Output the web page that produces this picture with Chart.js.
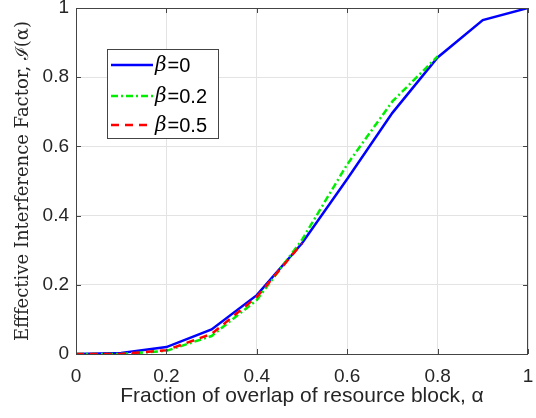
<!DOCTYPE html>
<html>
<head>
<meta charset="utf-8">
<script src="https://cdn.jsdelivr.net/npm/chart.js@4/dist/chart.umd.min.js"></script>
<style>
  html, body { margin: 0; padding: 0; background: #fff; }
  #wrap { width: 536px; height: 418px; }
</style>
</head>
<body>
<div id="wrap"><canvas id="chart"></canvas></div>
<script>
// values
const alphaVals = [0, 0.1, 0.2, 0.3, 0.4, 0.5, 0.6, 0.7, 0.8, 0.9, 1];
const beta0 = [0, 0.003, 0.02, 0.071, 0.17, 0.32, 0.506, 0.697, 0.857, 0.965, 1];
const beta02 = [0, 0, 0.009, 0.052, 0.156, 0.33, 0.548, 0.73, 0.86];
const beta05 = [0, 0, 0.011, 0.058, 0.165, 0.32];
const tickVals = [0, 0.2, 0.4, 0.6, 0.8, 1];
const legendNames = ['=0', '=0.2', '=0.5'];

const toPts = ys => ys.map((y, i) => ({ x: alphaVals[i], y }));
const axisColor = '#444';
const sans = '"Liberation Sans", Arial, sans-serif';
const serif = '"DejaVu Serif", "Liberation Serif", serif';

// box, inward ticks and legend, MATLAB style
const boxPlugin = {
    id: 'boxPlugin',
    afterDraw(chart) {
        const { ctx, chartArea: a, scales: { x, y } } = chart;
        ctx.save();
        ctx.strokeStyle = axisColor;
        ctx.lineWidth = 1;
        ctx.strokeRect(a.left + 0.5, a.top + 0.5, a.right - a.left - 1, a.bottom - a.top);
        ctx.beginPath();
        tickVals.forEach(v => {
            const px = Math.round(x.getPixelForValue(v)) + 0.5;
            ctx.moveTo(px, a.bottom); ctx.lineTo(px, a.bottom - 5);
            ctx.moveTo(px, a.top); ctx.lineTo(px, a.top + 5);
            const py = Math.round(y.getPixelForValue(v)) + 0.5;
            ctx.moveTo(a.left, py); ctx.lineTo(a.left + 5, py);
            ctx.moveTo(a.right, py); ctx.lineTo(a.right - 5, py);
        });
        ctx.stroke();

        // legend
        const lx = 107, ly = 49, lw = 111, lh = 89;
        ctx.fillStyle = '#fff';
        ctx.fillRect(lx, ly, lw, lh);
        ctx.strokeStyle = axisColor;
        ctx.strokeRect(lx + 0.5, ly + 0.5, lw, lh);
        const rows = [65, 96, 125];
        const ds = chart.data.datasets;
        ds.forEach((d, i) => {
            ctx.strokeStyle = d.borderColor;
            ctx.lineWidth = d.borderWidth;
            ctx.setLineDash(d.borderDash || []);
            ctx.beginPath();
            ctx.moveTo(111, rows[i]); ctx.lineTo(153, rows[i]);
            ctx.stroke();
            ctx.setLineDash([]);
            ctx.fillStyle = '#000';
            ctx.textBaseline = 'middle';
            ctx.font = 'italic 20px ' + serif;
            ctx.fillText('β', 155, rows[i] + 1);
            const bw = ctx.measureText('β').width;
            ctx.font = '20px ' + sans;
            ctx.fillText(legendNames[i], 156 + bw, rows[i] + 1);
        });
        ctx.restore();
    }
};

new Chart(document.getElementById('chart'), {
    type: 'line',
    data: {
        datasets: [
            { label: 'β=0', data: toPts(beta0), borderColor: '#0000ff', borderWidth: 2.5, order: 2 },
            { label: 'β=0.2', data: toPts(beta02), borderColor: '#00ee00', borderWidth: 2.5, borderDash: [7, 3, 2, 3], order: 1 },
            { label: 'β=0.5', data: toPts(beta05), borderColor: '#ff0000', borderWidth: 2.5, borderDash: [8, 6], order: 0 }
        ]
    },
    options: {
        responsive: true,
        maintainAspectRatio: false,
        animation: false,
        events: [],
        elements: { point: { radius: 0 }, line: { tension: 0, fill: false } },
        layout: { padding: { top: 8, right: 8, left: 0, bottom: 0 } },
        plugins: { legend: { display: false }, tooltip: { enabled: false } },
        scales: {
            x: {
                type: 'linear', min: 0, max: 1,
                afterFit: s => { s.height = 64; s.paddingLeft = 0; s.paddingRight = 0; },
                afterBuildTicks: s => { s.ticks = tickVals.map(v => ({ value: v })); },
                grid: { color: '#e3e3e3', drawTicks: false },
                border: { display: false },
                ticks: { color: '#262626', font: { family: sans, size: 19 }, padding: 11, maxRotation: 0,
                    callback: v => String(v) },
                title: { display: true, text: 'Fraction of overlap of resource block, α', color: '#262626',
                    font: { family: sans, size: 21 }, padding: { top: 0, bottom: 9 } }
            },
            y: {
                type: 'linear', min: 0, max: 1,
                afterFit: s => { s.width = 76; s.paddingTop = 0; s.paddingBottom = 0; },
                afterBuildTicks: s => { s.ticks = tickVals.map(v => ({ value: v })); },
                grid: { color: '#e3e3e3', drawTicks: false },
                border: { display: false },
                ticks: { color: '#262626', font: { family: sans, size: 19 }, padding: 7,
                    callback: v => String(v) },
                title: { display: true, text: 'Efffective Interference Factor, ℐ(α)', color: '#262626',
                    font: { family: serif, size: 18 }, padding: { bottom: 0, top: 13 } }
            }
        }
    },
    plugins: [boxPlugin]
});
</script>
</body>
</html>
